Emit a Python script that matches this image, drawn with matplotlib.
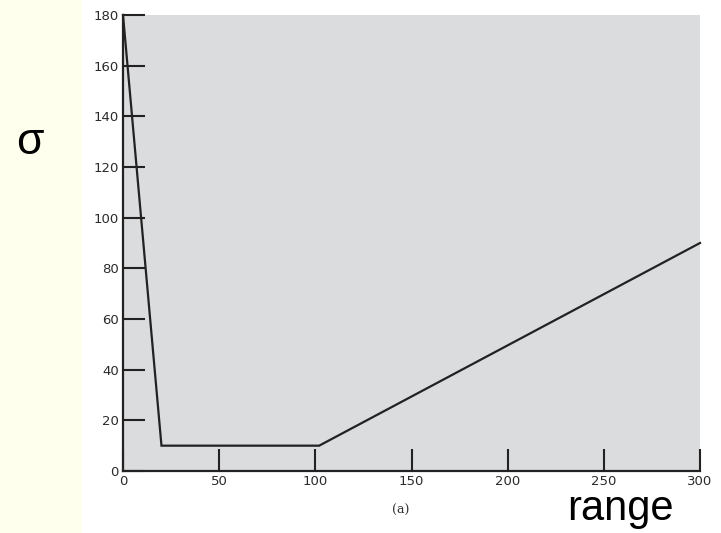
import matplotlib.pyplot as plt
from matplotlib.patches import Rectangle

# Data: sigma as a function of range
range_vals = [0, 20, 102, 300]
sigma_vals = [180, 10, 10, 90]
x_ticks = [0, 50, 100, 150, 200, 250, 300]
y_ticks = [0, 20, 40, 60, 80, 100, 120, 140, 160, 180]

fig = plt.figure(figsize=(7.21, 5.33), dpi=100)
fig.patch.set_facecolor('white')
# pale yellow strip on the left
fig.patches.append(Rectangle((0, 0), 82 / 721, 1, transform=fig.transFigure,
                             facecolor='#FFFFEE', edgecolor='none', zorder=0))

ax = fig.add_axes([123 / 721, 1 - 471 / 533, 577 / 721, 456 / 533])
ax.set_facecolor('#DBDCDE')
ax.plot(range_vals, sigma_vals, color='#222222', lw=1.6, solid_joinstyle='miter',
        clip_on=False)

ax.set_xlim(0, 300)
ax.set_ylim(0, 180)
ax.set_xticks(x_ticks)
ax.set_yticks(y_ticks)
ax.tick_params(direction='in', length=16, width=1.5, color='#222222',
               labelsize=9.5, labelcolor='#2a2a2a', pad=3)
for s in ['top', 'right']:
    ax.spines[s].set_visible(False)
for s in ['left', 'bottom']:
    ax.spines[s].set_linewidth(1.6)
    ax.spines[s].set_color('#222222')

fig.text(401 / 721, 1 - 510 / 533, '(a)', family='DejaVu Serif', fontsize=9,
         ha='center', va='center', color='#333333')
fig.text(620 / 721, 1 - 520 / 533, 'range', family='Liberation Sans', fontsize=30,
         ha='center', va='baseline', color='black')
fig.text(30 / 721, 1 - 143 / 533, 'σ', family='Liberation Sans', fontsize=32,
         ha='center', va='center', color='black')

fig.savefig('out.png', dpi=100)
